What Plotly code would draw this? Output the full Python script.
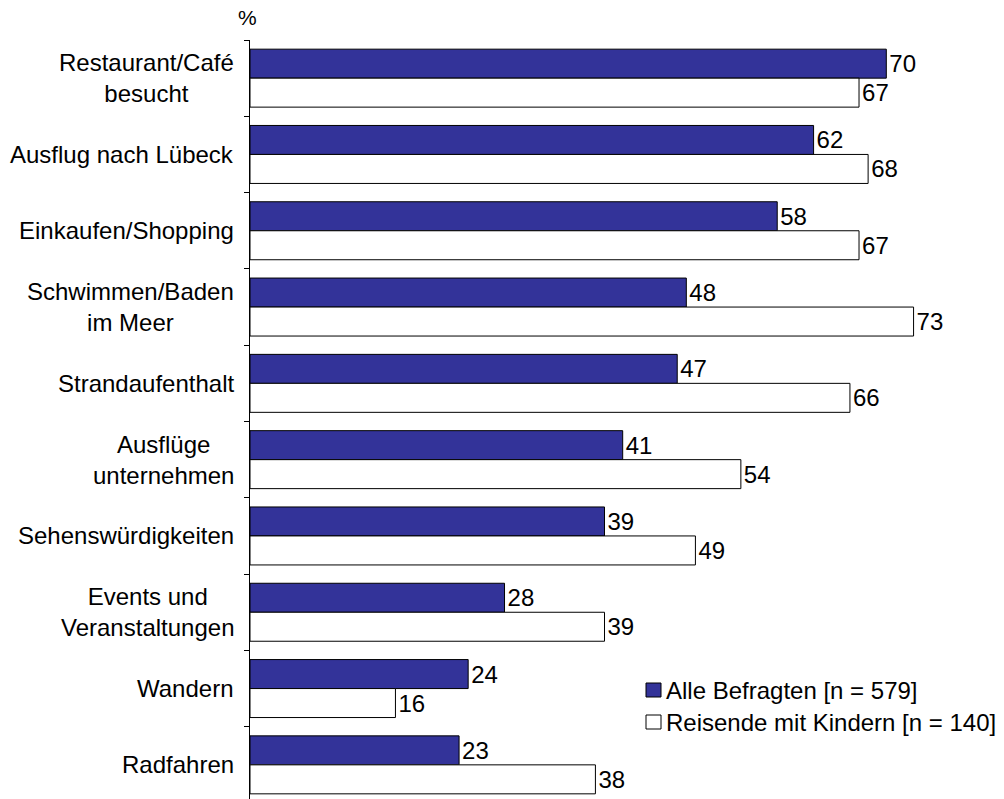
import plotly.graph_objects as go

categories = [
    "Restaurant/Café<br>besucht",
    "Ausflug nach Lübeck",
    "Einkaufen/Shopping",
    "Schwimmen/Baden<br>im Meer",
    "Strandaufenthalt",
    "Ausflüge<br>unternehmen",
    "Sehenswürdigkeiten",
    "Events und<br>Veranstaltungen",
    "Wandern",
    "Radfahren",
]
alle_befragten = [70, 62, 58, 48, 47, 41, 39, 28, 24, 23]
mit_kindern = [67, 68, 67, 73, 66, 54, 49, 39, 16, 38]
series_names = ["Alle Befragten [n = 579]", "Reisende mit Kindern [n = 140]"]
series_colors = ["#333399", "#ffffff"]

FONT = "Liberation Sans, Arial, sans-serif"
FS = 24
W, H = 1004, 799
ML, MR, MT, MB = 250, 0, 40, 0
PW, PH = W - ML - MR, H - MT - MB


def px_x(px):
    return (px - ML) / PW


def px_y(py):
    return (H - MB - py) / PH


fig = go.Figure()
for name, vals, col in zip(series_names, [alle_befragten, mit_kindern], series_colors):
    fig.add_trace(go.Bar(
        y=categories, x=vals, orientation="h", name=name,
        marker=dict(color=col, line=dict(color="#000000", width=1)),
        texttemplate="%{x}", textposition="outside",
        textfont=dict(family=FONT, size=FS, color="#000000"),
        constraintext="none", cliponaxis=False, showlegend=False,
    ))

# category labels, centred line by line
for cat in categories:
    fig.add_annotation(
        x=0, xref="paper", y=cat, yref="y", text=cat, showarrow=False,
        xanchor="right", yanchor="middle", align="center", xshift=-14,
        font=dict(family=FONT, size=FS, color="#000000"),
    )

# unit label above the axis
fig.add_annotation(
    x=px_x(247), xref="paper", y=px_y(17), yref="paper", text="%",
    showarrow=False, xanchor="center", yanchor="middle",
    font=dict(family=FONT, size=FS - 3, color="#000000"),
)

# legend
legend_rows = [690, 722]
for name, col, cy in zip(series_names, series_colors, legend_rows):
    fig.add_shape(
        type="rect", xref="paper", yref="paper",
        x0=px_x(646), x1=px_x(661), y0=px_y(cy - 7), y1=px_y(cy + 7),
        fillcolor=col, line=dict(color="#000000", width=1),
    )
    fig.add_annotation(
        x=px_x(664), xref="paper", y=px_y(cy), yref="paper", text=name,
        showarrow=False, xanchor="left", yanchor="middle",
        font=dict(family=FONT, size=FS, color="#000000"),
    )

fig.update_layout(
    width=W, height=H, barmode="group", bargap=0.24, bargroupgap=0,
    margin=dict(l=ML, r=MR, t=MT, b=MB),
    paper_bgcolor="#ffffff", plot_bgcolor="#ffffff",
    font=dict(family=FONT, size=FS, color="#000000"),
    xaxis=dict(range=[0, PW / 9.09], visible=False, fixedrange=True),
    yaxis=dict(
        type="category", range=[9.5 - 4 / 76.3, -0.5],
        showline=True, linecolor="#000000", linewidth=1,
        ticks="outside", ticklen=5, tickcolor="#000000", tickwidth=1,
        tickson="boundaries", showticklabels=False, showgrid=False,
        zeroline=False, fixedrange=True,
    ),
)

fig.write_html("out.html")
